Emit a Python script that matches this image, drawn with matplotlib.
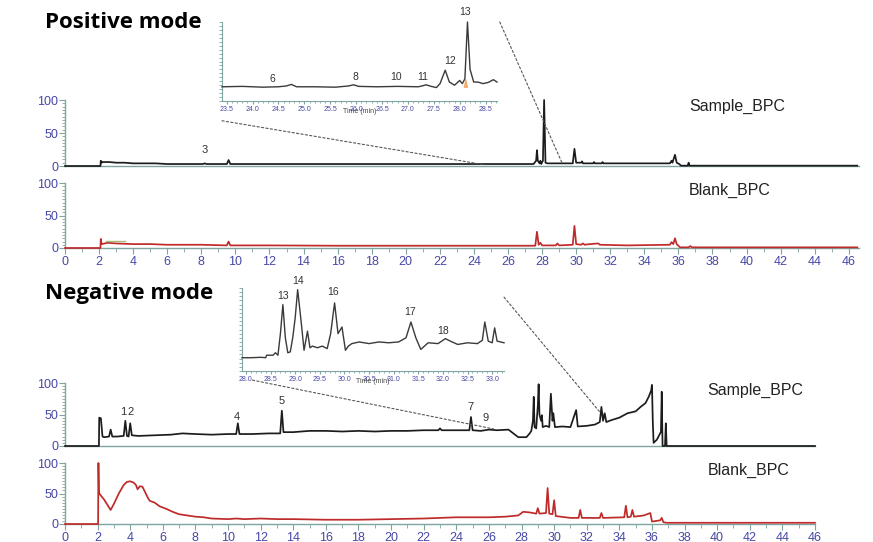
import numpy as np
import matplotlib
matplotlib.use("Agg")
import matplotlib.pyplot as plt
from matplotlib.ticker import MultipleLocator
from matplotlib.patches import ConnectionPatch

# ---- data: (time in min, relative intensity %) ----
pos_sample = [(0, 0), (2.08, 0), (2.1, 8), (2.15, 5), (2.2, 6), (2.6, 6), (3.0, 5),
              (3.5, 5), (4.0, 4), (5.3, 4), (6.0, 3), (8.1, 3), (8.2, 4), (8.3, 3),
              (9.5, 3), (9.6, 9), (9.7, 3), (12, 3), (16, 3), (20, 3), (24, 3),
              (27.5, 3), (27.65, 8), (27.7, 24), (27.75, 8), (27.85, 4), (27.9, 8),
              (27.95, 3), (28.05, 8), (28.12, 100), (28.2, 5), (28.3, 4), (29.8, 4),
              (29.9, 26), (30.0, 5), (30.3, 5), (30.35, 7), (30.4, 4), (31.0, 4),
              (31.05, 6), (31.1, 4), (31.5, 4), (31.55, 6), (31.6, 4), (33, 4),
              (35.5, 4), (35.6, 8), (35.65, 5), (35.8, 17), (35.9, 5), (36.05, 3),
              (36.15, 0.5), (36.55, 0.5), (36.6, 5), (36.65, 0.5), (46.5, 0.5)]

pos_blank = [(0, 0), (2.08, 0), (2.1, 14), (2.15, 6), (2.5, 8), (3, 7), (4, 6), (5, 6),
             (6, 5), (8, 5), (9.5, 4), (9.6, 10), (9.7, 4), (12, 4), (16, 3.5),
             (20, 3.5), (24, 3.5), (27.6, 3.5), (27.7, 25), (27.8, 5), (27.9, 8),
             (28.0, 4), (28.8, 4), (28.9, 7), (29.0, 4), (29.8, 5), (29.9, 34),
             (30.0, 6), (30.3, 5), (30.4, 7), (30.5, 5), (30.8, 6), (31.3, 7),
             (31.4, 5), (33, 4), (35.5, 5), (35.6, 9), (35.7, 6), (35.8, 15),
             (35.9, 6), (36.1, 1), (36.6, 1), (36.7, 3), (36.8, 1), (46.5, 1)]
pos_blank_mark = [(2.4, 11), (3.5, 11)]

pos_zoom = [(23.41, 18), (23.8, 18.5), (24.2, 17.5), (24.5, 18), (24.65, 19),
            (24.75, 21), (24.85, 18), (25.2, 18), (25.6, 17.5), (25.85, 19),
            (25.95, 20.5), (26.05, 18.5), (26.4, 18), (26.8, 18.5), (27.2, 18),
            (27.3, 19.5), (27.35, 20.5), (27.45, 18.5), (27.55, 17), (27.62, 22),
            (27.72, 39), (27.8, 24), (27.9, 20), (28.0, 26), (28.05, 22), (28.1, 28),
            (28.15, 100), (28.2, 40), (28.27, 24), (28.35, 24), (28.45, 22),
            (28.55, 23.5), (28.65, 27), (28.72, 24)]
pos_zoom_hl = [(28.08, 18), (28.11, 27), (28.14, 18)]

neg_sample = [(0, 0), (2.08, 0), (2.1, 45), (2.2, 44), (2.3, 15), (2.4, 14), (2.7, 15),
              (2.8, 26), (2.9, 15), (3.2, 15), (3.6, 16), (3.7, 40), (3.8, 16),
              (3.9, 15), (4.0, 36), (4.1, 17), (4.5, 16), (5.5, 17), (6.5, 18),
              (7.2, 20), (8, 19), (9, 18), (10, 19), (10.5, 19), (10.6, 36), (10.7, 19),
              (11.5, 19), (12.5, 20), (13.2, 20), (13.3, 56), (13.4, 22), (14, 22),
              (15, 24), (16, 24), (17, 23), (18, 24), (19, 23), (20, 24), (21, 24),
              (22, 25), (22.9, 25), (23.0, 28), (23.1, 25), (24, 25), (24.8, 25),
              (24.9, 46), (25.0, 25), (25.5, 24), (26, 26), (26.5, 25), (27.2, 26),
              (27.5, 20), (27.8, 14), (28.3, 14), (28.5, 20), (28.6, 24), (28.7, 40),
              (28.75, 78), (28.8, 30), (28.9, 28), (29.0, 64), (29.05, 98), (29.1, 50),
              (29.2, 40), (29.25, 49), (29.3, 30), (29.5, 32), (29.7, 30), (29.8, 83),
              (29.9, 40), (29.95, 52), (30.05, 30), (30.5, 31), (31, 30), (31.35, 57),
              (31.45, 31), (32, 32), (32.5, 34), (32.8, 38), (32.9, 62), (33.0, 40),
              (33.1, 52), (33.2, 38), (33.5, 41), (34, 45), (34.5, 52), (35, 55),
              (35.3, 62), (35.6, 68), (35.8, 78), (35.95, 88), (36.0, 97), (36.05, 40),
              (36.1, 5), (36.3, 10), (36.5, 20), (36.55, 22), (36.6, 86), (36.65, 0),
              (36.8, 0), (36.85, 36), (36.9, 0), (46, 0)]

neg_blank = [(0, 0), (2.03, 0), (2.05, 100), (2.08, 55), (2.1, 50), (2.4, 40), (2.8, 23),
             (3.0, 33), (3.3, 50), (3.6, 64), (3.8, 69), (4.0, 70), (4.2, 68),
             (4.35, 64), (4.45, 57), (4.6, 62), (4.75, 61), (4.9, 53), (5.1, 42),
             (5.2, 38), (5.5, 35), (5.8, 29), (6.2, 25), (6.6, 20), (7.0, 16), (7.5, 14),
             (8.0, 12), (8.5, 11), (9.0, 9), (10, 8), (10.5, 9), (11, 8), (12, 9),
             (13, 8), (14, 8), (16, 7), (18, 7), (20, 8), (22, 9), (23, 10), (24, 11),
             (25, 11), (26, 11), (27, 12), (27.8, 14), (28.1, 20), (28.5, 19),
             (28.9, 17), (29.0, 26), (29.1, 17), (29.5, 18), (29.6, 59), (29.7, 17),
             (29.9, 16), (30.0, 39), (30.1, 13), (31, 10), (31.5, 10), (31.6, 23),
             (31.7, 10), (32.8, 10), (32.9, 18), (33.0, 10), (34.3, 11), (34.4, 30),
             (34.5, 11), (34.7, 12), (34.8, 23), (34.9, 12), (35.5, 14), (35.9, 18),
             (36.0, 4), (36.5, 6), (36.6, 10), (36.7, 3), (36.9, 2), (46, 2)]

neg_zoom = [(27.92, 16), (28.1, 16), (28.3, 16.5), (28.4, 16), (28.42, 19), (28.55, 19),
            (28.6, 22), (28.65, 19), (28.7, 45), (28.75, 80), (28.8, 40), (28.85, 22),
            (28.9, 23), (28.95, 40), (29.0, 64), (29.05, 98), (29.12, 60), (29.18, 25),
            (29.25, 48), (29.3, 28), (29.35, 30), (29.45, 28), (29.55, 30), (29.65, 27),
            (29.72, 45), (29.8, 82), (29.87, 45), (29.95, 53), (30.02, 25), (30.08, 30),
            (30.15, 33), (30.3, 35), (30.5, 33), (30.7, 35), (30.9, 34), (31.1, 35),
            (31.25, 40), (31.35, 59), (31.45, 40), (31.55, 26), (31.7, 34), (31.9, 33),
            (32.05, 39), (32.15, 36), (32.3, 32), (32.5, 34), (32.7, 33), (32.8, 37),
            (32.85, 59), (32.92, 36), (33.0, 34), (33.05, 52), (33.1, 36), (33.24, 34)]

# peak numbers: (label, time, intensity)
pos_labels = [("3", 8.2, 17)]
pos_zoom_labels = [("6", 24.38, 22), ("8", 25.98, 24), ("10", 26.77, 24), ("11", 27.29, 24),
                   ("12", 27.81, 44), ("13", 28.1, 106)]
neg_labels = [("1", 3.6, 46), ("2", 4.0, 46), ("4", 10.55, 38), ("5", 13.3, 64),
              ("7", 24.85, 54), ("9", 25.8, 37)]
neg_zoom_labels = [("13", 28.75, 84), ("14", 29.06, 102), ("16", 29.77, 89),
                   ("17", 31.34, 65), ("18", 32.0, 42)]

W, H = 873, 542
SPINE = "#7fa5a0"
TICKTXT = "#4747a6"
BLACK = "#1c1c1c"
RED = "#bf2a2a"
plt.rcParams["font.family"] = ["Liberation Sans", "DejaVu Sans"]

fig = plt.figure(figsize=(W / 100, H / 100), dpi=100)


def px_axes(x0, y0, x1, y1):
    # pixel box (left, top, right, bottom) -> figure axes
    return fig.add_axes([x0 / W, 1 - y1 / H, (x1 - x0) / W, (y1 - y0) / H])


def style_main(ax, xmax, show_x):
    ax.set_xlim(0, xmax)
    ax.set_ylim(0, 100)
    ax.patch.set_alpha(0)
    for s in ("top", "right"):
        ax.spines[s].set_visible(False)
    for s in ("left", "bottom"):
        ax.spines[s].set_color(SPINE)
        ax.spines[s].set_linewidth(1.0)
    ax.set_yticks([0, 50, 100])
    ax.yaxis.set_minor_locator(MultipleLocator(5))
    ax.tick_params(axis="y", which="major", length=4, color=SPINE, labelcolor=TICKTXT,
                   labelsize=9, pad=1)
    ax.tick_params(axis="y", which="minor", length=2, color=SPINE)
    if show_x:
        ax.set_xticks(np.arange(0, 47, 2))
        ax.xaxis.set_minor_locator(MultipleLocator(1))
        ax.tick_params(axis="x", which="major", length=4, color=SPINE, labelcolor=TICKTXT,
                       labelsize=9, pad=1.5)
        ax.tick_params(axis="x", which="minor", length=3, color=SPINE)
    else:
        ax.set_xticks([])


def style_inset(ax, xlim, ticks):
    ax.set_xlim(*xlim)
    ax.set_ylim(0, 100)
    ax.patch.set_alpha(0)
    for s in ("top", "right"):
        ax.spines[s].set_visible(False)
    for s in ("left", "bottom"):
        ax.spines[s].set_color(SPINE)
        ax.spines[s].set_linewidth(0.8)
    ax.set_yticks([])
    ax.yaxis.set_minor_locator(MultipleLocator(5))
    ax.tick_params(axis="y", which="minor", length=2, color=SPINE)
    ax.set_xticks(ticks)
    ax.set_xticklabels([f"{t:.1f}" for t in ticks])
    ax.xaxis.set_minor_locator(MultipleLocator(0.1))
    ax.tick_params(axis="x", which="major", length=2, color=SPINE, labelcolor=TICKTXT,
                   labelsize=5, pad=1.5)
    ax.tick_params(axis="x", which="minor", length=1.5, color=SPINE)
    ax.set_xlabel("Time (min)", fontsize=5, color="#444444", labelpad=-3.5)


def trace(ax, pts, color, lw=1.25):
    t, y = np.array(pts).T
    ax.plot(t, y, color=color, lw=lw, zorder=3, clip_on=False)


def peak_labels(ax, labels, size=8):
    for lab, t, y in labels:
        ax.text(t, y, lab, ha="center", va="bottom", fontsize=size, color="#333333")


# ---- Positive mode ----
ax_ps = px_axes(65, 100, 859, 166)
style_main(ax_ps, 46.6, False)
trace(ax_ps, pos_sample, BLACK)
peak_labels(ax_ps, pos_labels)
ax_ps.text(0.786, 0.9, "Sample_BPC", transform=ax_ps.transAxes, fontsize=11.5,
           va="center", color="#222222")

ax_pb = px_axes(65, 183, 859, 248)
style_main(ax_pb, 46.6, True)
trace(ax_pb, pos_blank, RED)
mt, my = np.array(pos_blank_mark).T
ax_pb.plot(mt, my, color="#a9bb78", lw=1.0, zorder=3)
ax_pb.text(0.786, 0.88, "Blank_BPC", transform=ax_pb.transAxes, fontsize=11.5,
           va="center", color="#222222")

ax_pi = px_axes(222, 22, 497, 101)
style_inset(ax_pi, (23.41, 28.72), np.arange(23.5, 28.6, 0.5))
trace(ax_pi, pos_zoom, "#3a3a3a", lw=1.0)
ht, hy = np.array(pos_zoom_hl).T
ax_pi.fill_between(ht, 18, hy, color="#f4a460", alpha=0.8, zorder=2)
peak_labels(ax_pi, pos_zoom_labels, size=7.5)

fig.text(45 / W, 1 - 23 / H, "Positive mode", fontsize=16, fontweight="bold",
         family=["Open Sans", "DejaVu Sans"], va="center", ha="left")

# ---- Negative mode ----
ax_ns = px_axes(65, 383, 815, 446)
style_main(ax_ns, 46, False)
trace(ax_ns, neg_sample, BLACK)
peak_labels(ax_ns, neg_labels)
ax_ns.text(0.857, 0.89, "Sample_BPC", transform=ax_ns.transAxes, fontsize=11.5,
           va="center", color="#222222")

ax_nb = px_axes(65, 463, 815, 524)
style_main(ax_nb, 46, True)
trace(ax_nb, neg_blank, RED)
ax_nb.text(0.857, 0.885, "Blank_BPC", transform=ax_nb.transAxes, fontsize=11.5,
           va="center", color="#222222")

ax_ni = px_axes(242, 288, 504, 371)
style_inset(ax_ni, (27.92, 33.24), np.arange(28.0, 33.1, 0.5))
trace(ax_ni, neg_zoom, "#3a3a3a", lw=1.0)
peak_labels(ax_ni, neg_zoom_labels, size=7.5)

fig.text(45 / W, 1 - 294 / H, "Negative mode", fontsize=16, fontweight="bold",
         family=["Open Sans", "DejaVu Sans"], va="center", ha="left")

# ---- dashed zoom guides from the insets to the full traces ----
guides = [
    (ax_pi, (0.0, -0.25), ax_ps, (24.6, 2)),
    (ax_pi, (1.01, 1.0), ax_ps, (29.2, 3)),
    (ax_ni, (0.04, -0.11), ax_ns, (26.3, 27)),
    (ax_ni, (1.0, 0.89), ax_ns, (32.8, 54)),
]
for ax_a, pa, ax_b, pb in guides:
    con = ConnectionPatch(xyA=pa, coordsA="axes fraction", axesA=ax_a,
                          xyB=pb, coordsB="data", axesB=ax_b,
                          color="#555555", lw=0.8, linestyle=(0, (2, 2)), zorder=1)
    fig.add_artist(con)

fig.savefig("out.png", dpi=100)
